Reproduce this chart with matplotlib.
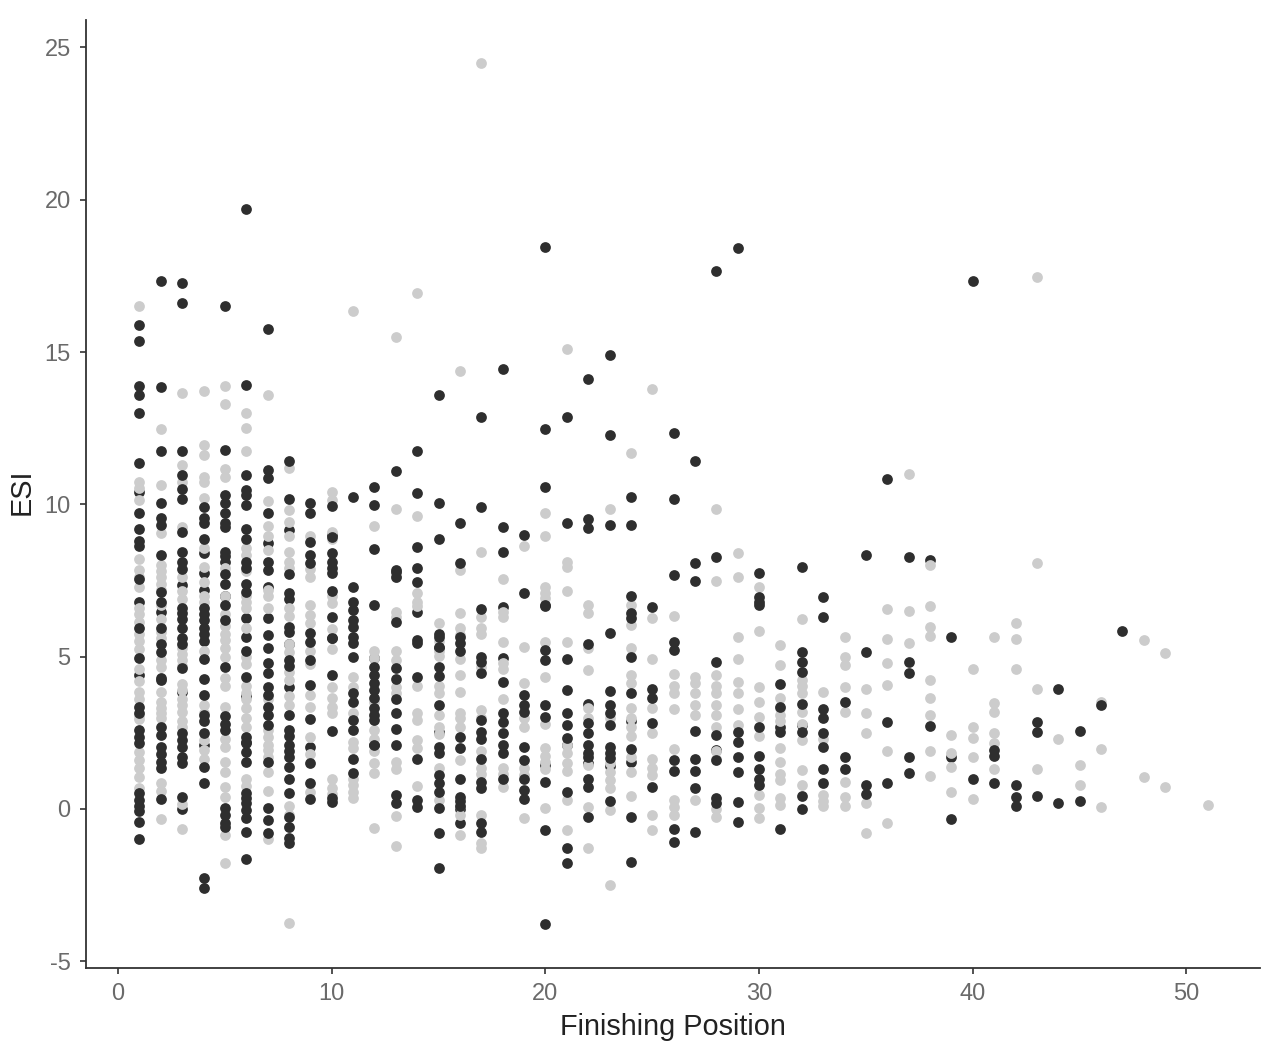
import matplotlib
matplotlib.use('Agg')
import matplotlib.pyplot as plt

plt.rcParams['font.family'] = ['Liberation Sans', 'DejaVu Sans']
plt.rcParams['axes.unicode_minus'] = False

# one inner list per finishing position, 1 to 51
dark_under = [
    [10.4, 8.8, 6.8, 4.4],
    [6.47, 4.25],
    [7.36, 5.95, 3.84, 0.0],
    [8.4, 7.75, 7.2, 5.5, 2.1],
    [8.1, 7.0],
    [9.2, 6.27, 5.65, 3.7, 2.2],
    [8.73, 7.3, 6.27],
    [9.16, 6.9, 5.4, 4.0, 0.98],
    [2.03],
    [9.0, 5.6],
    [],
    [4.95, 2.1],
    [7.85],
    [6.47],
    [5.75, 5.3, 2.53, 2.05],
    [0.0, -0.46],
    [2.3],
    [6.63, 4.95],
    [],
    [6.66, 1.44],
    [2.1],
    [3.45, 1.5],
    [1.4],
    [2.9, 1.55],
    [],
    [],
    [],
    [1.95],
    [],
    [1.75],
    [4.1, 2.7],
    [2.75],
    [],
    [],
    [],
    [],
    [],
    [8.18],
    [1.7],
    [],
    [1.75],
    [], [], [], [], [], [], [], [], [], [],
]

grey_esi = [
    [16.5, 10.75, 10.55, 10.14, 8.2, 7.85, 7.6, 7.3, 6.6, 6.4, 6.15, 5.75, 5.5, 5.25, 4.6, 4.2, 3.85, 3.6, 3.1, 2.95, 1.87, 1.6, 1.35, 1.05, 0.7],
    [12.48, 10.64, 9.06, 8.0, 7.8, 7.6, 7.4, 7.2, 6.7, 6.25, 5.8, 5.6, 4.9, 4.66, 3.84, 3.5, 3.3, 3.15, 3.0, 0.85, 0.6, -0.33],
    [13.66, 11.3, 10.75, 9.25, 7.6, 7.15, 6.9, 5.3, 5.1, 4.9, 4.7, 4.1, 3.9, 3.6, 3.4, 3.2, 2.9, 2.7, 0.15, -0.65],
    [13.72, 11.95, 11.62, 10.9, 10.75, 10.2, 8.57, 7.95, 7.45, 7.0, 6.8, 5.2, 3.4, 3.15, 2.25, 1.95, 1.65],
    [13.9, 13.3, 11.15, 10.9, 7.9, 7.0, 6.4, 6.0, 5.75, 5.55, 5.3, 5.0, 4.3, 4.05, 3.35, 2.3, 2.05, 1.55, 1.2, 0.72, 0.4, -0.85, -1.77],
    [13.0, 12.5, 11.75, 8.57, 8.35, 7.8, 7.0, 6.8, 6.6, 5.95, 5.0, 4.75, 4.05, 3.8, 3.6, 3.3, 3.0, 2.7, 1.0, 0.75],
    [13.6, 10.1, 9.3, 8.95, 8.5, 7.2, 7.0, 6.6, 3.6, 2.6, 2.37, 2.1, 1.94, 1.7, 1.2, 0.6, -1.0],
    [11.2, 9.8, 9.43, 8.95, 8.44, 8.1, 7.9, 6.6, 6.35, 5.4, 5.15, 4.5, 4.25, 3.7, 3.4, 0.1, -0.2, -0.6, -3.75],
    [8.95, 7.88, 7.6, 6.7, 6.37, 6.1, 5.2, 4.75, 3.74, 3.35, 2.35, 1.8, 0.55],
    [10.4, 10.15, 9.1, 8.85, 7.0, 6.75, 5.9, 5.25, 4.0, 3.65, 3.35, 3.15, 1.0, 0.7, 0.5],
    [16.35, 4.34, 4.0, 3.15, 2.2, 2.0, 1.0, 0.8, 0.55, 0.36],
    [9.3, 5.2, 4.95, 3.5, 2.6, 2.3, 1.9, 1.5, 1.17, -0.62],
    [15.5, 9.85, 7.63, 6.47, 6.3, 5.2, 4.9, 4.0, 3.8, 1.55, 1.3, -0.23, -1.2],
    [16.95, 9.62, 7.1, 6.8, 6.65, 4.05, 3.15, 2.92, 2.25, 2.0, 0.75],
    [6.1, 5.5, 5.2, 5.02, 4.05, 3.8, 3.09, 2.7, 2.45, 1.35, 0.3],
    [14.38, 7.85, 6.43, 5.95, 5.7, 4.93, 4.4, 3.84, 3.15, 3.0, 2.7, 1.6, 0.1, -0.2, -0.85],
    [24.5, 8.44, 6.3, 5.95, 5.75, 4.65, 3.25, 3.0, 1.9, 1.35, 1.15, -0.2, -1.12, -1.28],
    [7.55, 6.45, 6.3, 5.48, 4.8, 4.6, 3.6, 1.35, 1.15, 0.72],
    [8.64, 5.32, 4.14, 3.0, 2.7, 1.35, 1.1, -0.3],
    [9.72, 8.97, 7.29, 7.1, 6.93, 5.48, 4.34, 2.8, 2.0, 1.75, 1.55, 1.3, 0.03],
    [15.1, 8.1, 7.95, 7.16, 5.48, 2.1, 1.85, 1.5, 1.25, 0.3, -0.69],
    [6.7, 6.43, 5.3, 4.57, 3.3, 3.0, 1.45, 0.07, -1.28],
    [9.85, 3.0, 1.5, 1.2, 0.95, 0.7, -0.03, -2.5],
    [11.7, 6.7, 6.05, 5.3, 4.4, 4.15, 3.3, 3.0, 2.7, 2.4, 1.7, 1.2, 0.43],
    [13.8, 6.27, 4.93, 3.3, 2.5, 1.64, 1.35, 1.1, -0.2, -0.69],
    [6.34, 4.43, 4.04, 3.8, 3.28, 1.97, 0.3, 0.05, -0.2],
    [4.34, 4.14, 3.8, 3.4, 3.09, 0.3],
    [9.85, 7.49, 4.4, 4.04, 3.8, 3.4, 3.1, 2.7, 1.9, 1.65, 0.0, -0.27],
    [8.4, 7.6, 5.65, 4.93, 4.17, 3.8, 3.28, 2.75],
    [7.29, 5.85, 4.0, 3.5, 3.02, 2.4, 0.46, 0.03, -0.3],
    [5.38, 4.73, 3.64, 3.3, 3.09, 2.9, 2.0, 1.55, 1.15, 0.95, 0.36, 0.13],
    [6.24, 4.24, 4.05, 3.8, 3.2, 2.8, 2.25, 1.28, 0.8],
    [3.84, 2.3, 0.46, 0.25, 0.1],
    [5.65, 5.0, 4.73, 4.0, 3.19, 0.89, 0.4, 0.1],
    [3.94, 3.15, 2.5, 0.2, -0.79],
    [6.57, 5.58, 4.79, 4.07, 1.9, -0.46],
    [11.0, 6.5, 5.45],
    [8.0, 6.67, 5.98, 5.68, 4.24, 3.64, 3.09, 1.9, 1.08],
    [2.43, 1.84, 1.38, 0.56],
    [4.6, 2.7, 2.33, 1.7, 0.33],
    [5.65, 3.48, 3.19, 2.5, 2.17, 1.31],
    [6.1, 5.58, 4.6],
    [17.47, 8.08, 3.94, 1.31],
    [2.3],
    [1.44, 0.8],
    [3.5, 1.97, 0.07],
    [],
    [5.55, 1.05],
    [5.12, 0.72],
    [],
    [0.13],
]

dark_esi = [
    [15.89, 15.37, 13.87, 13.6, 12.99, 11.37, 9.72, 9.2, 8.63, 7.55, 5.95, 4.97, 3.35, 3.15, 2.6, 2.37, 2.16, 0.52, 0.3, 0.1, -0.05, -0.43, -0.99],
    [17.34, 13.86, 11.75, 10.05, 9.55, 9.33, 8.34, 7.13, 6.8, 5.95, 5.4, 5.15, 4.3, 2.7, 2.43, 2.04, 1.8, 1.55, 1.35, 0.33],
    [17.27, 16.6, 11.75, 10.97, 10.5, 10.18, 9.1, 8.44, 8.1, 7.88, 6.6, 6.43, 6.25, 5.6, 5.4, 4.62, 2.5, 2.25, 2.05, 1.7, 1.5, 0.4],
    [9.9, 9.55, 9.4, 8.87, 6.6, 6.4, 6.2, 5.95, 5.75, 4.93, 4.27, 3.74, 3.1, 2.9, 2.5, 1.38, 0.85, -2.27, -2.6],
    [16.5, 11.8, 10.3, 10.05, 9.7, 9.4, 9.25, 8.45, 8.3, 7.7, 7.4, 6.7, 6.2, 4.66, 3.05, 2.8, 2.6, 0.03, -0.2, -0.45, -0.6],
    [19.7, 13.92, 10.97, 10.47, 10.3, 9.97, 8.87, 8.1, 7.9, 7.4, 7.13, 5.2, 4.34, 2.37, 2.15, 1.87, 1.55, 0.52, 0.35, 0.2, -0.03, -0.3, -0.75, -1.65],
    [15.75, 11.13, 10.87, 9.72, 8.1, 7.85, 5.7, 5.3, 4.8, 4.47, 4.0, 3.74, 3.35, 3.1, 2.76, 1.55, 0.03, -0.36, -0.8],
    [11.42, 10.18, 7.7, 7.1, 5.98, 5.8, 4.9, 4.7, 3.09, 2.6, 2.4, 2.1, 1.9, 1.7, 1.38, 0.52, -0.27, -0.6, -0.95, -1.12],
    [10.05, 9.72, 8.77, 8.34, 8.08, 5.78, 5.48, 4.9, 4.07, 2.96, 1.5, 0.85, 0.33],
    [9.93, 8.93, 8.4, 8.1, 7.9, 7.75, 7.17, 6.3, 5.6, 4.4, 2.56, 0.35, 0.23],
    [10.25, 7.28, 6.8, 6.53, 6.2, 5.98, 5.65, 5.45, 5.0, 3.8, 3.5, 2.92, 2.6, 1.64, 1.18],
    [10.57, 9.98, 8.54, 6.7, 4.66, 4.4, 4.15, 3.9, 3.65, 3.3, 3.1, 2.92, 2.1],
    [11.1, 7.78, 7.6, 6.15, 4.63, 4.27, 3.6, 3.15, 2.63, 2.1, 0.46, 0.2],
    [11.75, 10.37, 8.6, 7.9, 7.45, 5.55, 5.45, 4.34, 1.64, 0.3, 0.07],
    [13.6, 10.05, 8.87, 5.65, 5.32, 4.66, 4.37, 3.4, 1.84, 1.1, 0.85, 0.56, 0.03, -0.8, -1.93],
    [9.4, 8.08, 5.65, 5.45, 5.2, 2.37, 2.0, 0.98, 0.4, 0.25, 0.1],
    [12.87, 9.92, 6.57, 5.0, 4.83, 4.47, 2.92, 2.53, 1.64, 0.89, 0.69, -0.46, -0.75],
    [14.45, 9.26, 8.44, 4.17, 3.15, 2.86, 2.5, 2.1, 1.84, 1.0],
    [9.0, 7.09, 3.74, 3.4, 3.2, 2.04, 1.6, 1.0, 0.62, 0.33],
    [18.45, 12.48, 10.57, 6.7, 5.22, 4.9, 3.4, 3.02, 0.89, -0.69, -3.78],
    [12.87, 9.39, 4.93, 3.9, 3.15, 2.76, 2.33, 0.56, -1.28, -1.77],
    [14.1, 9.52, 9.23, 5.42, 2.82, 2.5, 2.1, 1.85, 1.7, 0.98, 0.72, -0.27],
    [14.9, 12.28, 9.33, 5.78, 3.87, 3.4, 3.15, 2.76, 2.04, 1.85, 1.67, 0.26],
    [10.25, 9.33, 7.0, 6.43, 6.27, 5.0, 3.8, 1.97, -0.27, -1.74],
    [6.63, 3.94, 3.65, 2.82, 0.72],
    [12.34, 10.18, 7.68, 5.48, 5.22, 1.6, 1.25, -0.66, -1.08],
    [11.43, 8.08, 7.49, 2.56, 1.64, 1.25, 0.69, -0.75],
    [17.67, 8.27, 4.83, 2.43, 1.6, 0.35, 0.2],
    [18.4, 2.53, 2.2, 1.7, 1.2, 0.23, -0.43],
    [7.75, 6.96, 6.8, 6.7, 2.69, 1.3, 1.0, 0.8],
    [3.35, 2.53, -0.66],
    [7.95, 5.16, 4.83, 4.5, 3.45, 2.53, 0.43, 0.0],
    [6.96, 6.3, 3.28, 3.0, 2.5, 2.04, 1.31, 0.85],
    [3.52, 1.7, 1.31],
    [8.34, 5.16, 0.79, 0.49],
    [10.84, 2.86, 0.85],
    [8.27, 4.83, 4.47, 1.7, 1.18],
    [2.73],
    [5.65, -0.33],
    [17.34, 0.98],
    [1.94, 0.85],
    [0.79, 0.4, 0.1],
    [2.86, 2.53, 0.43],
    [3.94, 0.2],
    [2.56, 0.26],
    [3.4],
    [5.83],
    [],
    [],
    [],
    [],
]

x_ticks = [0, 10, 20, 30, 40, 50]
y_ticks = [-5, 0, 5, 10, 15, 20, 25]

fig = plt.figure(figsize=(12.63, 10.57), dpi=100)
ax = fig.add_axes([86 / 1263, 1 - 968 / 1057, (1260 - 86) / 1263, (968 - 20) / 1057])


def scatter_layer(values, colour):
    xs = []
    ys = []
    for i, col in enumerate(values):
        for v in col:
            xs.append(i + 1)
            ys.append(v)
    ax.scatter(xs, ys, s=60, c=colour, linewidths=0, clip_on=False)


scatter_layer(dark_under, '#2e2e2e')
scatter_layer(grey_esi, '#cccccc')
scatter_layer(dark_esi, '#2e2e2e')

ax.set_xlim(-1.5, 53.44)
ax.set_ylim(-5.22, 25.9)
ax.set_xticks(x_ticks)
ax.set_yticks(y_ticks)
ax.tick_params(labelsize=17, labelcolor='#6a6a6a', color='#333333', length=4, width=1.2)
ax.tick_params(axis='x', pad=7)
ax.tick_params(axis='y', pad=7)
ax.spines['top'].set_visible(False)
ax.spines['right'].set_visible(False)
ax.spines['left'].set_linewidth(1.3)
ax.spines['bottom'].set_linewidth(1.3)
ax.spines['left'].set_color('#333333')
ax.spines['bottom'].set_color('#333333')

fig.text(673 / 1263, 1 - 1027 / 1057, 'Finishing Position', fontsize=20.8, color='#222222', ha='center', va='center')
fig.text(22 / 1263, 1 - 492 / 1057, 'ESI', fontsize=20.8, color='#222222', rotation=90, ha='center', va='center')

fig.savefig('out.png', dpi=100)
